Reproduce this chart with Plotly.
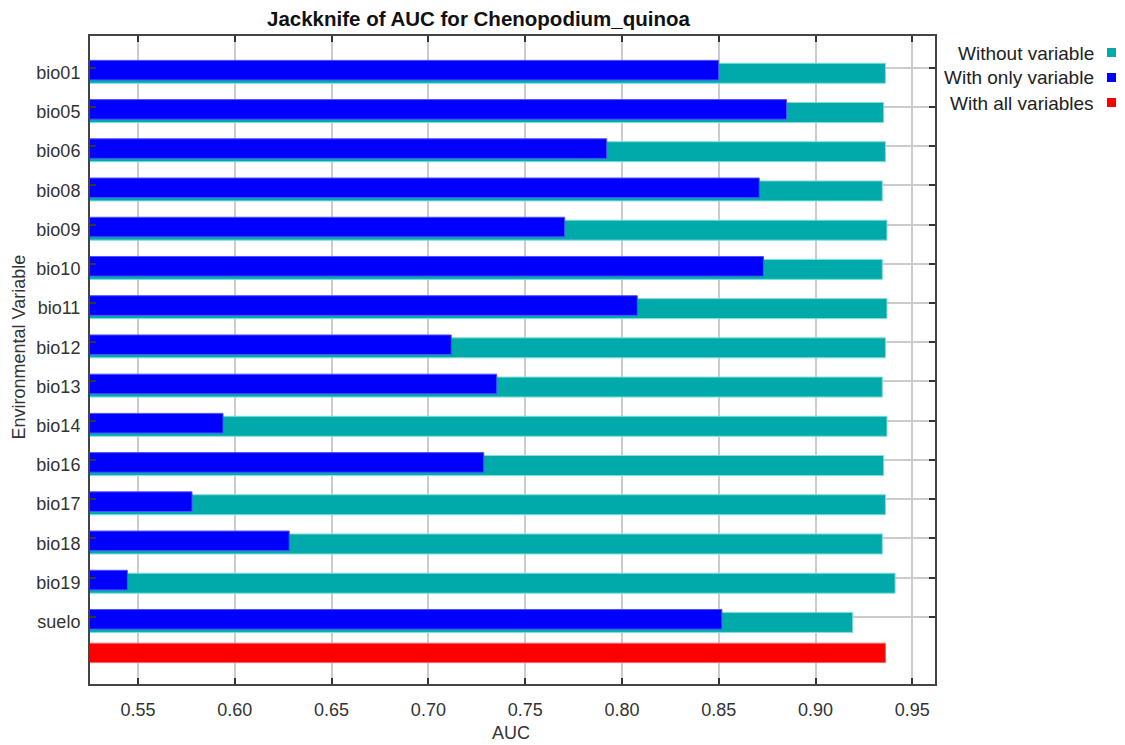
import plotly.graph_objects as go

variables = ["bio01", "bio05", "bio06", "bio08", "bio09", "bio10", "bio11", "bio12",
             "bio13", "bio14", "bio16", "bio17", "bio18", "bio19", "suelo"]
without_variable = [0.9361, 0.9352, 0.9361, 0.9345, 0.9369, 0.9345, 0.9369, 0.9361,
                    0.9345, 0.9369, 0.9352, 0.9361, 0.9345, 0.9411, 0.9192]
with_only_variable = [0.8499, 0.8850, 0.7921, 0.8709, 0.7704, 0.8731, 0.8079, 0.7118,
                      0.7353, 0.5939, 0.7286, 0.5779, 0.6281, 0.5445, 0.8516]
with_all_variables = 0.9361
x_ticks = [0.55, 0.60, 0.65, 0.70, 0.75, 0.80, 0.85, 0.90, 0.95]

CYAN = "#00AAAA"
BLUE = "#0000FF"
RED = "#FF0000"

rows = list(range(len(variables)))
all_row = len(variables)

fig = go.Figure()
fig.add_trace(go.Bar(
    y=rows, x=without_variable, orientation="h", name="Without variable",
    marker=dict(color=CYAN, line=dict(color="#7fdede", width=1)),
    width=0.51, offset=-0.112, showlegend=False, hoverinfo="x"))
fig.add_trace(go.Bar(
    y=rows, x=with_only_variable, orientation="h", name="With only variable",
    marker=dict(color=BLUE, line=dict(color="#5050ff", width=1)),
    width=0.50, offset=-0.186, showlegend=False, hoverinfo="x"))
fig.add_trace(go.Bar(
    y=[all_row - 0.08], x=[with_all_variables], orientation="h", name="With all variables",
    marker=dict(color=RED, line=dict(color="#ff6060", width=1)),
    width=0.494, offset=-0.247, showlegend=False, hoverinfo="x"))

L, R, T, B = 90, 190, 36, 61
PW, PH = 1125 - L - R, 745 - T - B

def px(x):
    return (x - L) / PW

def py(y):
    return (745 - B - y) / PH

fig.update_layout(
    width=1125, height=745,
    margin=dict(l=L, r=R, t=T, b=B, pad=0),
    paper_bgcolor="white", plot_bgcolor="white",
    barmode="overlay",
    font=dict(family="Liberation Sans, Arial, sans-serif", size=18, color="#333333"),
    showlegend=False,
)
fig.update_xaxes(
    range=[0.5252, 0.9617], tickvals=x_ticks, ticktext=[f"{v:.2f}" for v in x_ticks],
    showgrid=True, gridcolor="#cccccc", gridwidth=2,
    showline=True, linecolor="#444444", linewidth=2, mirror="ticks",
    ticks="inside", ticklen=6, tickwidth=2, tickcolor="#333333",
    ticklabelstandoff=8, zeroline=False,
    tickfont=dict(size=18, color="#333333"),
)
fig.update_yaxes(
    range=[15.713, -0.807], tickvals=rows, ticktext=variables,
    showgrid=True, gridcolor="#cccccc", gridwidth=2,
    showline=True, linecolor="#444444", linewidth=2, mirror="ticks",
    ticks="inside", ticklen=6, tickwidth=2, tickcolor="#333333",
    ticklabelshift=-5, ticklabelstandoff=4, zeroline=False,
    tickfont=dict(size=18, color="#333333"),
)

ann = [
    dict(text="<b>Jackknife of AUC for Chenopodium_quinoa</b>", x=px(478.5), y=py(18),
         xref="paper", yref="paper", xanchor="center", yanchor="middle", showarrow=False,
         font=dict(size=20.5, color="#111111")),
    dict(text="AUC", x=px(511), y=py(733), xref="paper", yref="paper",
         xanchor="center", yanchor="middle", showarrow=False, font=dict(size=18, color="#333333")),
    dict(text="Environmental Variable", x=px(18.5), y=py(347), xref="paper", yref="paper",
         xanchor="center", yanchor="middle", textangle=-90, showarrow=False,
         font=dict(size=18, color="#333333")),
]
legend_items = [("Without variable", CYAN, 52.5), ("With only variable", BLUE, 77.5),
                ("With all variables", RED, 102.5)]
shapes = []
for label, col, yc in legend_items:
    ann.append(dict(text=label, x=px(1096), y=py(yc + 0.5), xref="paper", yref="paper",
                    xanchor="right", yanchor="middle", showarrow=False,
                    font=dict(size=19, color="#222222")))
    shapes.append(dict(type="rect", xref="paper", yref="paper",
                       x0=px(1107), x1=px(1116), y0=py(yc + 4.5), y1=py(yc - 4.5),
                       fillcolor=col, line=dict(width=0)))
fig.update_layout(annotations=ann, shapes=shapes)

fig.write_html(
    "out.html",
    config={"displayModeBar": False},
    post_script="document.body.style.margin='0';document.body.style.overflow='hidden';",
)
